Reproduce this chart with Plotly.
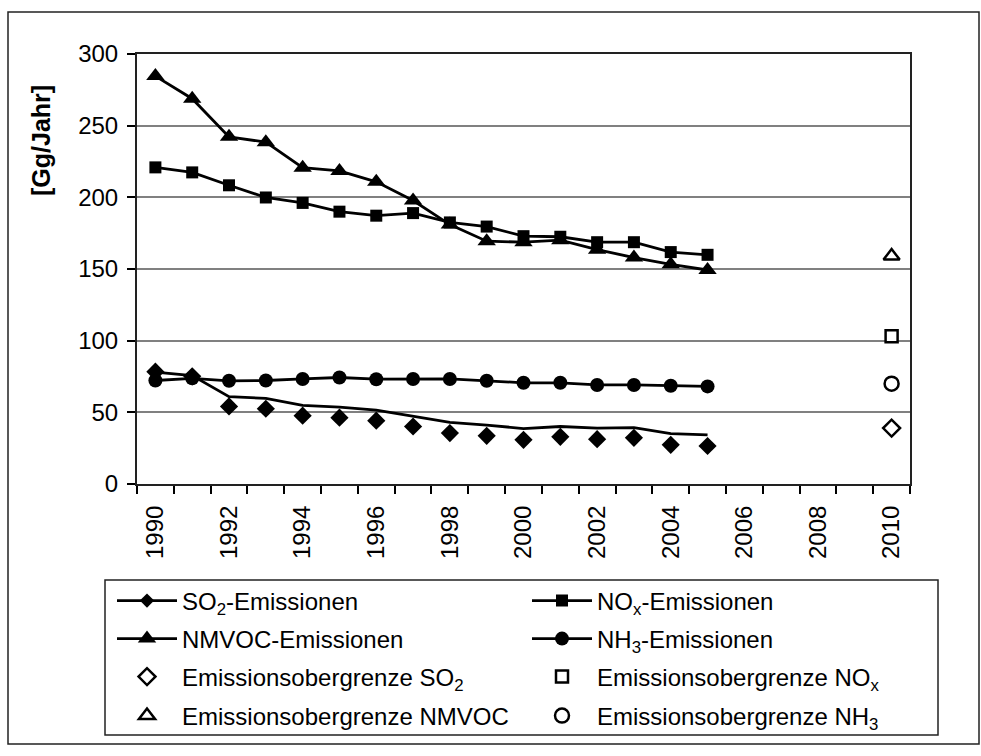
import plotly.graph_objects as go

# ---------------- data ----------------
years = list(range(1990, 2006))
so2_line = [78.0, 75.6, 60.9, 59.7, 54.8, 53.7, 51.5, 47.3, 43.0, 41.1, 38.7, 40.1, 39.0, 39.4, 35.2, 34.3]
so2_points = [78.4, 75.1, 54.1, 52.5, 47.7, 46.3, 44.2, 40.1, 35.5, 33.6, 30.8, 32.9, 31.3, 32.2, 27.3, 26.5]
nox = [220.9, 217.4, 208.4, 199.9, 196.1, 190.0, 187.2, 189.0, 182.5, 179.6, 172.9, 172.5, 168.7, 168.7, 161.8, 159.9]
nmvoc = [284.6, 268.8, 242.2, 238.5, 220.7, 218.4, 210.8, 197.8, 181.0, 169.4, 168.7, 170.1, 163.5, 158.0, 153.3, 149.3]
nh3 = [72.2, 73.7, 72.0, 72.2, 73.3, 74.3, 73.1, 73.3, 73.3, 72.0, 70.6, 70.6, 69.1, 69.1, 68.5, 68.1]

target_year = [2010]
target_so2 = [39]
target_nox = [103]
target_nmvoc = [159]
target_nh3 = [70]

label_years = list(range(1990, 2011, 2))
tick_bounds = [y - 0.5 for y in range(1990, 2012)]
y_ticks = [0, 50, 100, 150, 200, 250, 300]

names = {
    "so2": "SO<sub>2</sub>-Emissionen",
    "nox": "NO<sub>x</sub>-Emissionen",
    "nmvoc": "NMVOC-Emissionen",
    "nh3": "NH<sub>3</sub>-Emissionen",
    "t_so2": "Emissionsobergrenze SO<sub>2</sub>",
    "t_nox": "Emissionsobergrenze NO<sub>x</sub>",
    "t_nmvoc": "Emissionsobergrenze NMVOC",
    "t_nh3": "Emissionsobergrenze NH<sub>3</sub>",
}

# ---------------- layout constants ----------------
W, H = 981, 756
L, R, T, B = 137, 910, 54, 484
PW, PH = R - L, B - T
FONT = "Liberation Sans, Arial, sans-serif"
FS = 24


def px(xp):
    return (xp - L) / PW


def py(yp):
    return 1 - (yp - T) / PH


fig = go.Figure()
blk = "black"
LW = 2.8

# SO2: line and separate markers
fig.add_trace(go.Scatter(x=years, y=so2_line, mode="lines", line=dict(color=blk, width=LW),
                         showlegend=False, hoverinfo="skip"))
fig.add_trace(go.Scatter(x=years, y=so2_points, mode="markers",
                         marker=dict(symbol="diamond", size=14, color=blk), showlegend=False))
fig.add_trace(go.Scatter(x=[None], y=[None], mode="lines+markers", name=names["so2"],
                         line=dict(color=blk, width=LW), marker=dict(symbol="diamond", size=11, color=blk),
                         legend="legend"))
fig.add_trace(go.Scatter(x=years, y=nox, mode="lines+markers", name=names["nox"],
                         line=dict(color=blk, width=LW), marker=dict(symbol="square", size=12, color=blk),
                         legend="legend"))
fig.add_trace(go.Scatter(x=years, y=nmvoc, mode="lines+markers", name=names["nmvoc"],
                         line=dict(color=blk, width=LW), marker=dict(symbol="triangle-up", size=16, color=blk),
                         legend="legend2"))
fig.add_trace(go.Scatter(x=years, y=nh3, mode="lines+markers", name=names["nh3"],
                         line=dict(color=blk, width=LW), marker=dict(symbol="circle", size=14, color=blk),
                         legend="legend2"))

openmk = dict(color="white", line=dict(color=blk, width=2.5))
fig.add_trace(go.Scatter(x=target_year, y=target_so2, mode="markers", name=names["t_so2"],
                         marker=dict(symbol="diamond", size=13, **openmk), legend="legend3"))
fig.add_trace(go.Scatter(x=target_year, y=target_nox, mode="markers", name=names["t_nox"],
                         marker=dict(symbol="square", size=12, **openmk), legend="legend3"))
fig.add_trace(go.Scatter(x=target_year, y=target_nmvoc, mode="markers", name=names["t_nmvoc"],
                         marker=dict(symbol="triangle-up", size=14, **openmk), legend="legend4"))
fig.add_trace(go.Scatter(x=target_year, y=target_nh3, mode="markers", name=names["t_nh3"],
                         marker=dict(symbol="circle", size=14, **openmk), legend="legend4"))

row_y = [601, 639, 677, 716]
leg_common = dict(orientation="h", xanchor="left", yanchor="middle", x=px(112),
                  font=dict(family=FONT, size=FS, color=blk), bgcolor="rgba(0,0,0,0)",
                  borderwidth=0, entrywidth=340, entrywidthmode="pixels", itemwidth=60,
                  itemclick=False, itemdoubleclick=False)

fig.update_layout(
    width=W, height=H,
    margin=dict(l=L, r=W - R, t=T, b=H - B, pad=0),
    paper_bgcolor="white", plot_bgcolor="white",
    font=dict(family=FONT, size=FS, color=blk),
    legend=dict(y=py(row_y[0]), **leg_common),
    legend2=dict(y=py(row_y[1]), **leg_common),
    legend3=dict(y=py(row_y[2]), **leg_common),
    legend4=dict(y=py(row_y[3]), **leg_common),
    xaxis=dict(range=[1989.5, 2010.5], tickmode="array", tickvals=label_years,
               ticktext=[str(v) for v in label_years], ticks="", tickangle=-90,
               showgrid=False, zeroline=False, showline=True, linecolor="#222", linewidth=2,
               mirror=True, ticklabelstandoff=10, tickfont=dict(family=FONT, size=FS, color=blk),
               minor=dict(tickmode="array", tickvals=tick_bounds, ticks="outside", ticklen=8,
                          tickwidth=1.5, tickcolor=blk, showgrid=False)),
    yaxis=dict(range=[0, 300], tickmode="array", tickvals=y_ticks, ticks="outside", ticklen=8,
               tickwidth=1.5, tickcolor=blk, showgrid=True, gridcolor="#808080", gridwidth=1.5,
               zeroline=False, showline=True, linecolor="#222", linewidth=2, mirror=True,
               ticklabelstandoff=4, tickfont=dict(family=FONT, size=FS, color=blk)),
    showlegend=True,
    annotations=[dict(text="<b>[Gg/Jahr]</b>", textangle=-90, xref="paper", yref="paper",
                      x=px(41), y=py(141), showarrow=False, xanchor="center", yanchor="middle",
                      font=dict(family=FONT, size=25, color=blk))],
    shapes=[
        dict(type="rect", xref="paper", yref="paper", x0=px(8), x1=px(979), y0=py(744), y1=py(12),
             line=dict(color="#222", width=1.5), fillcolor="rgba(0,0,0,0)", layer="below"),
        dict(type="rect", xref="paper", yref="paper", x0=px(105), x1=px(938), y0=py(735), y1=py(580),
             line=dict(color="#222", width=1.5), fillcolor="rgba(0,0,0,0)", layer="below"),
    ],
)

fig.write_html("out.html", config={"displayModeBar": False},
               post_script="document.body.style.margin='0';")
